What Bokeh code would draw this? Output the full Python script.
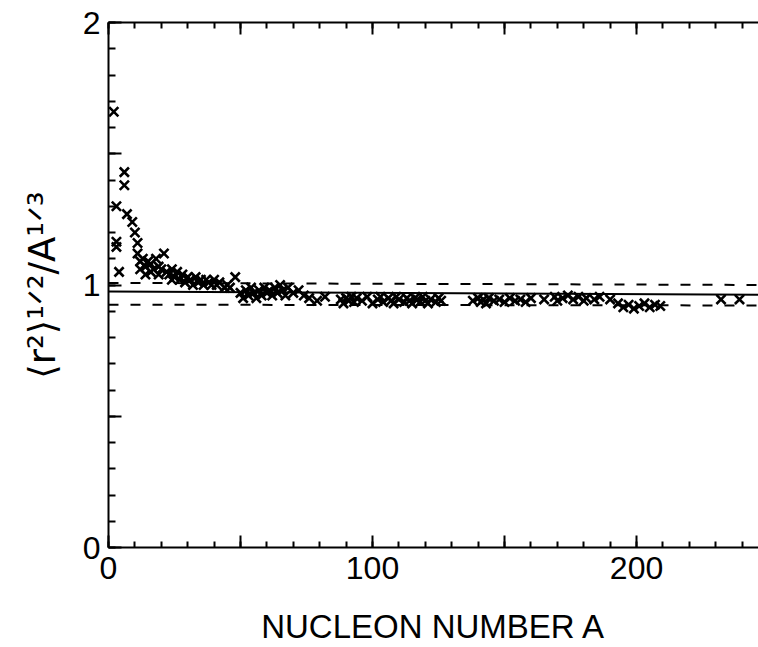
import math
from bokeh.plotting import figure
from bokeh.models import Range1d, LinearAxis, FixedTicker
from bokeh.embed import file_html
from bokeh.resources import INLINE

# ---- data ----
nucleon_A = [2, 3, 3, 3, 4, 6, 6, 7, 9, 10, 11, 11, 12, 12, 13, 14, 14, 15, 16, 16,
             17, 18, 19, 19, 20, 21, 22, 23, 24, 24, 25, 26, 27, 28, 29, 30, 31, 32, 33, 34,
             35, 36, 37, 38, 39, 40, 41, 42, 44, 45, 46, 48, 50, 51, 52, 53, 54, 55, 56, 57,
             58, 59, 60, 61, 62, 63, 64, 65, 66, 67, 68, 70, 72, 74, 76, 79, 82, 88, 89, 90,
             91, 92, 93, 94, 96, 98, 100, 102, 103, 104, 106, 107, 108, 109, 110, 112, 113, 114, 115, 116,
             117, 118, 119, 120, 121, 122, 124, 125, 126, 138, 140, 141, 142, 143, 144, 146, 148, 150, 152, 154,
             156, 158, 160, 165, 169, 170, 172, 174, 176, 178, 180, 181, 184, 186, 190, 193, 195, 197, 199, 201,
             203, 205, 207, 209, 232, 239]
radius_ratio = [1.66, 1.30, 1.165, 1.145, 1.05, 1.43, 1.38, 1.27, 1.24, 1.20, 1.16, 1.12, 1.09, 1.06, 1.10, 1.07, 1.04, 1.09, 1.05, 1.08,
                1.06, 1.10, 1.07, 1.04, 1.06, 1.12, 1.05, 1.04, 1.06, 1.02, 1.03, 1.05, 1.02, 1.04, 1.01, 1.03, 1.02, 1.00, 1.03, 1.01,
                1.02, 1.00, 1.02, 1.01, 1.00, 1.02, 1.00, 1.01, 0.99, 1.00, 0.99, 1.03, 0.97, 0.95, 0.98, 0.96, 0.99, 0.97, 0.95, 0.98,
                0.96, 0.99, 0.97, 0.98, 0.96, 0.99, 0.97, 1.00, 0.98, 0.96, 0.99, 0.97, 0.98, 0.96, 0.95, 0.94, 0.955, 0.945, 0.93, 0.95,
                0.94, 0.955, 0.935, 0.95, 0.94, 0.955, 0.93, 0.945, 0.955, 0.935, 0.95, 0.94, 0.93, 0.955, 0.945, 0.935, 0.95, 0.94, 0.93, 0.95,
                0.945, 0.935, 0.955, 0.94, 0.93, 0.945, 0.935, 0.95, 0.94, 0.94, 0.95, 0.935, 0.945, 0.93, 0.95, 0.94, 0.945, 0.935, 0.95, 0.94,
                0.945, 0.935, 0.95, 0.945, 0.955, 0.94, 0.95, 0.96, 0.945, 0.955, 0.94, 0.95, 0.945, 0.955, 0.945, 0.93, 0.915, 0.925, 0.91, 0.92,
                0.93, 0.915, 0.925, 0.92, 0.945, 0.945]

line_A = [0, 250]
upper_dashed = [1.008, 1.0]
solid_fit = [0.975, 0.963]
lower_dashed = [0.925, 0.922]

x_major = [0, 50, 100, 150, 200]
x_minor = list(range(0, 251, 10))
y_major = [0, 0.5, 1, 1.5, 2]
y_minor = [i / 10 for i in range(21)]
x_labels = {0: "0", 50: "", 100: "100", 150: "", 200: "200"}
y_labels = {0: "0", 0.5: "", 1: "1", 1.5: "", 2: "2"}
x_title = "NUCLEON NUMBER A"
y_title = "⟨r²⟩¹ᐟ²/A¹ᐟ³"

FONT = "Liberation Sans"

p = figure(width=758, height=647, output_backend="svg", toolbar_location=None,
           x_range=Range1d(0, 246.2), y_range=Range1d(0, 2),
           min_border_left=108, min_border_right=0, min_border_top=22, min_border_bottom=99)
p.outline_line_color = None
p.grid.visible = False
p.background_fill_color = "white"
p.border_fill_color = "white"

def style_axis(ax, ticks, minor, tin, mtin):
    ax.ticker = FixedTicker(ticks=ticks, minor_ticks=minor)
    ax.major_tick_in = tin
    ax.major_tick_out = 0
    ax.minor_tick_in = mtin
    ax.minor_tick_out = 0
    ax.axis_line_width = 2
    ax.major_tick_line_width = 2
    ax.minor_tick_line_width = 2
    ax.axis_line_color = "black"
    ax.major_tick_line_color = "black"
    ax.minor_tick_line_color = "black"
    ax.major_label_text_font = FONT
    ax.major_label_text_font_size = "32px"
    ax.major_label_text_color = "black"

xa = p.xaxis[0]
style_axis(xa, x_major, x_minor, 12, 6)
xa.major_label_overrides = x_labels
xa.major_label_standoff = 9
xa.axis_label = x_title
xa.axis_label_text_font = FONT
xa.axis_label_text_font_size = "33px"
xa.axis_label_text_font_style = "normal"
xa.axis_label_text_color = "black"
xa.axis_label_standoff = 26

ya = p.yaxis[0]
style_axis(ya, y_major, y_minor, 13, 7)
ya.major_label_overrides = y_labels
ya.major_label_standoff = 8
ya.axis_label = y_title
ya.axis_label_text_font = "DejaVu Sans"
ya.axis_label_text_font_size = "37px"
ya.axis_label_text_font_style = "normal"
ya.axis_label_text_color = "black"
ya.axis_label_standoff = 16

top = LinearAxis()
style_axis(top, x_major, x_minor, 12, 6)
top.major_label_text_font_size = "0px"
top.major_label_text_color = None
top.major_label_standoff = 0
p.add_layout(top, "above")

p.line(line_A, upper_dashed, line_color="black", line_width=2, line_dash="10 12")
p.line(line_A, solid_fit, line_color="black", line_width=2)
p.line(line_A, lower_dashed, line_color="black", line_width=2, line_dash="10 12")

p.scatter(nucleon_A, radius_ratio, marker="x", size=13, line_width=2.6, line_color="black")

open("out.html", "w").write(file_html(p, INLINE))
